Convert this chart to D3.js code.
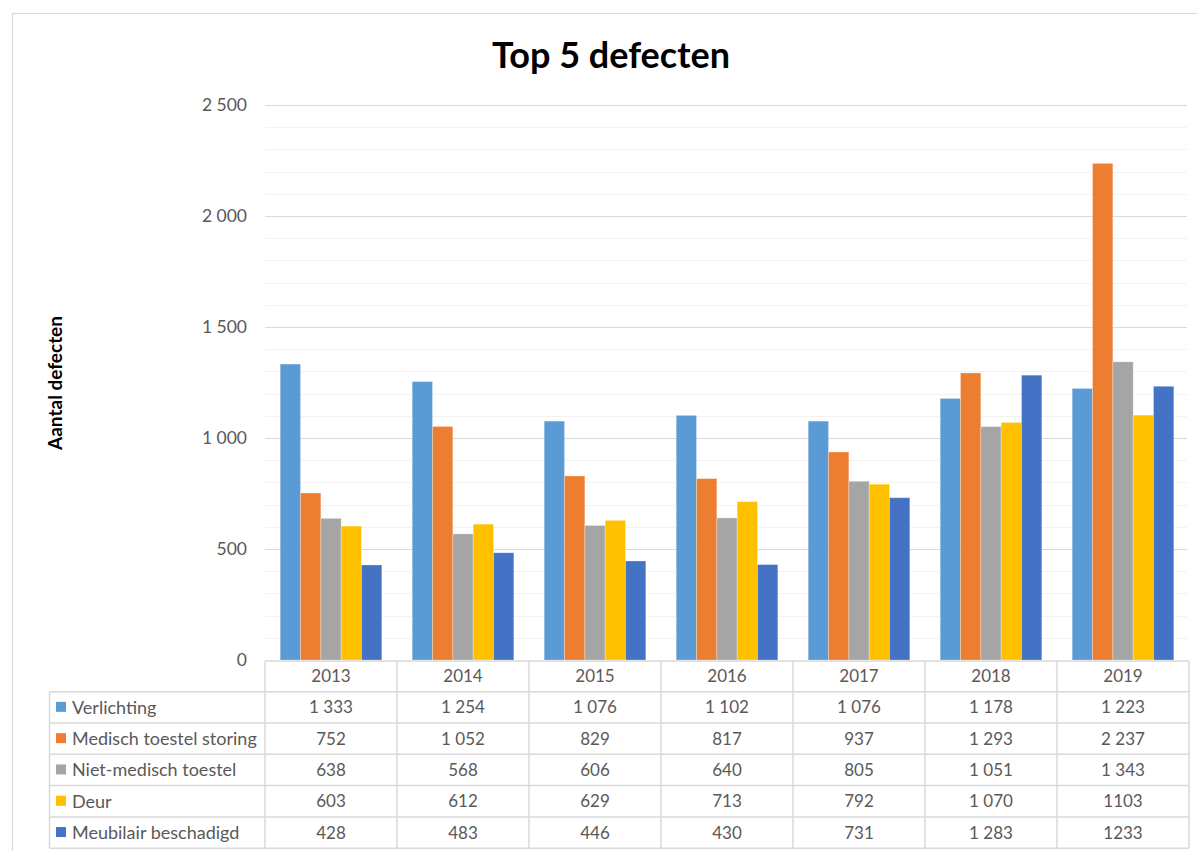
<!DOCTYPE html>
<html>
<head>
<meta charset="utf-8">
<script src="https://cdn.jsdelivr.net/npm/d3@7"></script>
<style>
  body { margin: 0; background: #fff; }
  text { font-family: Lato, "Open Sans", sans-serif; }
</style>
</head>
<body>
<svg id="chart" width="1197" height="851"></svg>
<script>
const years = ["2013", "2014", "2015", "2016", "2017", "2018", "2019"];
const seriesNames = ["Verlichting", "Medisch toestel storing", "Niet-medisch toestel", "Deur", "Meubilair beschadigd"];
const seriesColors = ["#5B9BD5", "#ED7D31", "#A5A5A5", "#FFC000", "#4472C4"];
const verlichting = [1333, 1254, 1076, 1102, 1076, 1178, 1223];
const medisch = [752, 1052, 829, 817, 937, 1293, 2237];
const nietMedisch = [638, 568, 606, 640, 805, 1051, 1343];
const deur = [603, 612, 629, 713, 792, 1070, 1103];
const meubilair = [428, 483, 446, 430, 731, 1283, 1233];
const tableText = [
  ["1 333", "1 254", "1 076", "1 102", "1 076", "1 178", "1 223"],
  ["752", "1 052", "829", "817", "937", "1 293", "2 237"],
  ["638", "568", "606", "640", "805", "1 051", "1 343"],
  ["603", "612", "629", "713", "792", "1 070", "1103"],
  ["428", "483", "446", "430", "731", "1 283", "1233"]
];
const yTicks = [0, 500, 1000, 1500, 2000, 2500];
const title = "Top 5 defecten";
const yTitle = "Aantal defecten";

const seriesValues = [verlichting, medisch, nietMedisch, deur, meubilair];

const svg = d3.select("#chart");
const W = 1197, H = 851;

// chart outer border
svg.append("rect").attr("x", 12.5).attr("y", 13.5).attr("width", W + 10).attr("height", H + 10)
  .attr("fill", "#fff").attr("stroke", "#D9D9D9").attr("stroke-width", 1.2);

const plotLeft = 265, plotRight = 1189, plotTop = 105, plotBottom = 660;

const x = d3.scaleBand().domain(years).range([plotLeft, plotRight]).paddingInner(0).paddingOuter(0);
const groupPad = 0.23;
const xs = d3.scaleBand().domain(seriesNames)
  .range([x.bandwidth() * groupPad / 2, x.bandwidth() * (1 - groupPad / 2)]).padding(0);
const y = d3.scaleLinear().domain([0, 2500]).range([plotBottom, plotTop]);

const locale = d3.formatLocale({ decimal: ",", thousands: " ", grouping: [3], currency: ["", " €"] });
const fmt = locale.format(",d");

// minor gridlines
const minor = d3.range(100, 2501, 100).filter(v => v % 500 !== 0);
svg.append("g").selectAll("line").data(minor).join("line")
  .attr("x1", plotLeft).attr("x2", plotRight - 2)
  .attr("y1", d => Math.round(y(d)) + 0.5).attr("y2", d => Math.round(y(d)) + 0.5)
  .attr("stroke", "#F2F2F2").attr("stroke-width", 1);

// y axis with major gridlines
const yAxis = d3.axisLeft(y).tickValues(yTicks).tickFormat(fmt).tickSize(-(plotRight - 2 - plotLeft)).tickPadding(18);
const gy = svg.append("g").attr("transform", `translate(${plotLeft},0)`).call(yAxis);
gy.select(".domain").remove();
gy.selectAll(".tick line").attr("stroke", "#D9D9D9").attr("stroke-width", 1.2);
gy.selectAll(".tick text").attr("fill", "#595959").style("font-size", "17.5px")
  .style("font-family", "Lato, sans-serif");
gy.selectAll(".tick").filter(d => d === 0).select("line").remove();

// bars
const groups = svg.append("g").selectAll("g").data(years).join("g")
  .attr("transform", d => `translate(${x(d)},0)`);
groups.selectAll("rect")
  .data((yr, i) => seriesNames.map((s, k) => ({ s, k, v: seriesValues[k][i] })))
  .join("rect")
  .attr("x", d => xs(d.s))
  .attr("width", xs.bandwidth())
  .attr("y", d => y(d.v))
  .attr("height", d => y(0) - y(d.v))
  .attr("fill", d => seriesColors[d.k])
  .attr("stroke", "#ffffff").attr("stroke-opacity", 0.35).attr("stroke-width", 0.8);

// data table
const tableTop = 661, headerH = 30.7, rowH = 31.3, tableLeft = 49.5;
const lineColor = "#D9D9D9";
const tg = svg.append("g");
const tableBottom = tableTop + headerH + rowH * seriesNames.length;

tg.append("line").attr("x1", plotLeft).attr("x2", plotRight).attr("y1", tableTop).attr("y2", tableTop)
  .attr("stroke", lineColor).attr("stroke-width", 1.5);
d3.range(seriesNames.length + 1).forEach(r => {
  const yy = tableTop + headerH + r * rowH;
  tg.append("line").attr("x1", tableLeft).attr("x2", plotRight).attr("y1", yy).attr("y2", yy)
    .attr("stroke", lineColor).attr("stroke-width", 1.5);
});
const vx = years.map(yr => x(yr)).concat([plotRight]);
vx.forEach(xx => {
  tg.append("line").attr("x1", xx).attr("x2", xx).attr("y1", tableTop).attr("y2", tableBottom)
    .attr("stroke", lineColor).attr("stroke-width", 1.5);
});
tg.append("line").attr("x1", tableLeft).attr("x2", tableLeft).attr("y1", tableTop + headerH).attr("y2", tableBottom)
  .attr("stroke", lineColor).attr("stroke-width", 1.5);

const numSize = "17px", labelSize = "18px";

tg.selectAll("text.yr").data(years).join("text").attr("class", "yr")
  .attr("x", d => x(d) + x.bandwidth() / 2).attr("y", tableTop + headerH / 2)
  .attr("dy", "0.35em").attr("text-anchor", "middle")
  .attr("fill", "#595959").style("font-size", numSize).text(d => d);

seriesNames.forEach((s, k) => {
  const cy = tableTop + headerH + k * rowH + rowH / 2;
  tg.append("rect").attr("x", 56).attr("y", cy - 5.5).attr("width", 10).attr("height", 10)
    .attr("fill", seriesColors[k]);
  tg.append("text").attr("x", 72).attr("y", cy).attr("dy", "0.35em")
    .attr("fill", "#595959").style("font-size", labelSize).text(s);
  years.forEach((yr, i) => {
    tg.append("text").attr("x", x(yr) + x.bandwidth() / 2).attr("y", cy).attr("dy", "0.35em")
      .attr("text-anchor", "middle").attr("fill", "#595959").style("font-size", numSize)
      .text(tableText[k][i]);
  });
});

svg.append("text").attr("x", 611).attr("y", 68).attr("text-anchor", "middle")
  .style("font-size", "36px").style("font-weight", "bold").attr("fill", "#000").text(title);

svg.append("text").attr("transform", "translate(62,383) rotate(-90)").attr("text-anchor", "middle")
  .style("font-size", "19px").style("font-weight", "bold").attr("fill", "#000").text(yTitle);
</script>
</body>
</html>
